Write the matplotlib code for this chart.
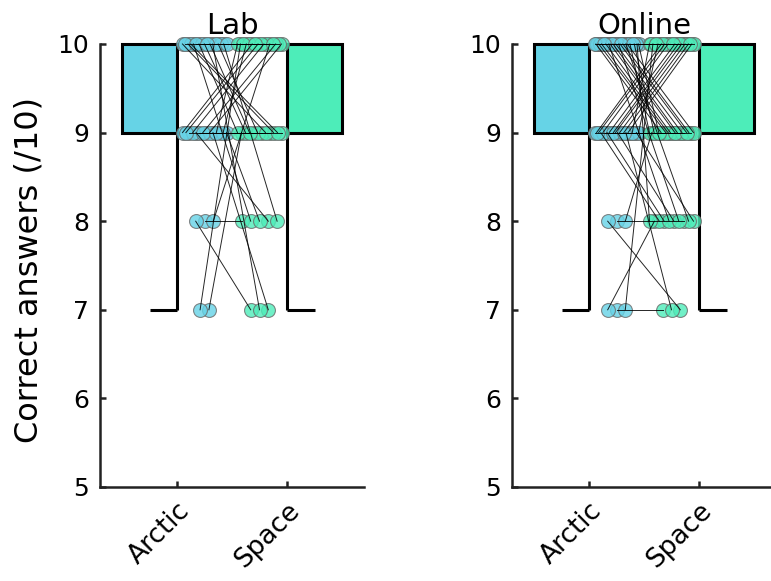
import numpy as np
import matplotlib
matplotlib.use('Agg')
import matplotlib.pyplot as plt
from matplotlib.patches import Rectangle
from matplotlib.transforms import ScaledTranslation

# conditions and panel titles
conditions = ['Arctic', 'Space']
panels = ['Lab', 'Online']

# paired scores per participant (Arctic, Space), out of 10
lab_arctic = [7, 7, 8, 8, 8, 9, 10, 9, 10, 10, 9,
              9, 9, 9, 9,
              9, 9, 9, 9, 9, 9, 9,
              10, 10, 10, 10, 10, 10, 10,
              10, 10, 10, 10, 10, 10, 10]
lab_space = [9, 10, 8, 7, 10, 7, 7, 8, 8, 8, 8,
             9, 9, 9, 9,
             10, 10, 10, 10, 10, 10, 10,
             9, 9, 9, 9, 9, 9, 9,
             10, 10, 10, 10, 10, 10, 10]

online_arctic = ([7, 7, 7, 8, 8, 8, 9] + [9] * 4 + [10] * 4
                 + [9] * 6 + [9] * 11 + [10] * 13 + [10] * 15)
online_space = ([7, 8, 10, 8, 7, 9, 7] + [8] * 4 + [8] * 4
                + [9] * 6 + [10] * 11 + [9] * 13 + [10] * 15)

colors = ['#66D3E6', '#4DEDB9']


def jitter(scores, centre, seed=0.0):
    """Spread points sharing a score evenly around centre, in scrambled order"""
    scores = np.asarray(scores)
    xs = np.zeros(len(scores))
    for level in np.unique(scores):
        idx = np.where(scores == level)[0]
        n = len(idx)
        w = min(0.2, 0.04 * (n - 1))
        slots = np.linspace(-w, w, n)
        order = np.argsort(((np.arange(n) + 1) * 0.618034 + seed) % 1)
        xs[idx[order]] = centre + slots
    return xs


def draw_panel(ax, arctic, space, title):
    data = [np.asarray(arctic), np.asarray(space)]
    for i, d in enumerate(data):
        pos = i + 1
        q1, q3 = np.percentile(d, [25, 75])
        lo = d.min()
        # box sits on the outer side of each tick
        x0 = pos - 0.5 if i == 0 else pos
        ax.add_patch(Rectangle((x0, q1), 0.5, q3 - q1, facecolor=colors[i],
                               edgecolor='black', lw=2.2, zorder=1,
                               clip_on=False))
        ax.plot([pos, pos], [lo, q1], color='black', lw=2.2, zorder=1,
                solid_capstyle='butt')
        cap = [pos - 0.25, pos] if i == 0 else [pos, pos + 0.25]
        ax.plot(cap, [lo, lo], color='black', lw=2.2, zorder=1,
                solid_capstyle='butt')

    xa = jitter(data[0], 1.25, 0.1)
    xs = jitter(data[1], 1.75, 0.45)
    ax.scatter(xa, data[0], s=100, facecolor=colors[0], edgecolor='#6a6a6a',
               alpha=0.8, lw=0.8, zorder=3, clip_on=False)
    ax.scatter(xs, data[1], s=100, facecolor=colors[1], edgecolor='#6a6a6a',
               alpha=0.8, lw=0.8, zorder=3, clip_on=False)
    for k in range(len(xa)):
        ax.plot([xa[k], xs[k]], [data[0][k], data[1][k]], color='black',
                lw=0.7, alpha=0.85, zorder=4, clip_on=False)

    ax.set_xlim(0.3, 2.7)
    ax.set_ylim(5, 10)
    ax.set_yticks([5, 6, 7, 8, 9, 10])
    ax.set_xticks([1, 2])
    ax.set_xticklabels(conditions, rotation=45, ha='right',
                       rotation_mode='anchor', fontsize=19)
    for lab in ax.get_xticklabels():
        lab.set_transform(lab.get_transform()
                          + ScaledTranslation(0.2, 0, ax.figure.dpi_scale_trans))
    ax.spines['top'].set_visible(False)
    ax.spines['right'].set_visible(False)
    for s in ['left', 'bottom']:
        ax.spines[s].set_linewidth(1.8)
        ax.spines[s].set_color('#222222')
    ax.tick_params(direction='in', length=4, width=1.8, labelsize=18,
                   color='#222222', pad=8)
    ax.tick_params(axis='x', labelsize=19)
    ax.set_title(title, fontsize=21, pad=7)


fig = plt.figure(figsize=(7.71, 5.81), dpi=100)
ax1 = fig.add_axes([100 / 771, 94 / 581, 264 / 771, 443 / 581])
ax2 = fig.add_axes([512 / 771, 94 / 581, 264 / 771, 443 / 581])

draw_panel(ax1, lab_arctic, lab_space, panels[0])
draw_panel(ax2, online_arctic, online_space, panels[1])
ax1.set_ylabel('Correct answers (/10)', fontsize=23, labelpad=6)
ax1.yaxis.set_label_coords(-0.21, 0.49)

fig.savefig('out.png', dpi=100)
